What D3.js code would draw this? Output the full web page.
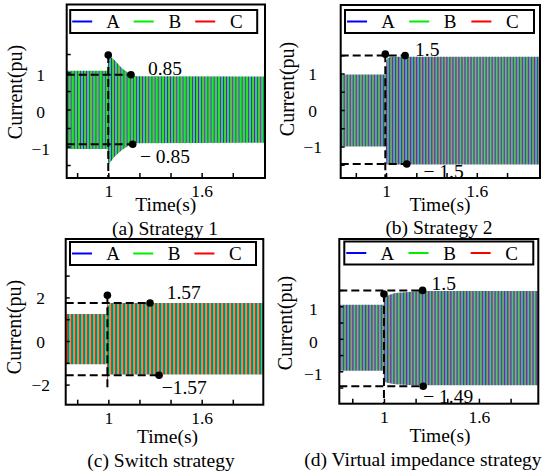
<!DOCTYPE html>
<html>
<head>
<meta charset="utf-8">
<script src="https://cdn.jsdelivr.net/npm/d3@7"></script>
<style>
  body { margin: 0; background: #fff; }
  text { font-family: "Liberation Serif", "Times New Roman", serif; fill: #000; }
</style>
</head>
<body>
<svg id="fig" width="550" height="476"></svg>
<script>
////////////////////////////////////////////////////////////////////////
// Data

let phases = ["A", "B", "C"];
let phaseColors = ["#0000ff", "#00ee00", "#ff0000"];
let captions = ["(a)  Strategy 1", "(b)  Strategy 2", "(c)  Switch strategy", "(d)  Virtual impedance strategy"];

let xTickValues = [0.8, 1.0, 1.2, 1.4, 1.6, 1.8];
let xTickLabels = [1, 1.6];
let yTicksHalf = [-1.5, -1, -0.5, 0, 0.5, 1, 1.5];
let yTicksC = [-2, -1, 0, 1, 2, 3];
let yLabelsOne = [-1, 0, 1];
let yLabelsC = [-2, 0, 2];

// current envelope (time in s, current in pu)
let timeA  = [0.733, 0.995, 1.0, 1.04, 1.09, 1.14, 1.18, 2.007];
let upperA = [1.05, 1.05, 1.47, 1.34, 1.11, 0.96, 0.90, 0.89];
let lowerA = [-1.07, -1.07, -1.5, -1.28, -1.09, -0.96, -0.91, -0.90];

let timeB  = [0.70, 0.998, 1.002, 1.01, 1.03, 2.018];
let upperB = [0.97, 0.97, 1.35, 1.42, 1.46, 1.46];
let lowerB = [-1.0, -1.0, -1.49, -1.49, -1.49, -1.49];

let timeC  = [0.726, 0.99, 0.994, 1.0, 1.01, 1.996];
let upperC = [1.24, 1.24, 1.95, 1.6, 1.74, 1.74];
let lowerC = [-1.07, -1.07, -2.2, -1.5, -1.54, -1.54];

let timeD  = [0.718, 0.998, 1.0, 1.006, 1.027, 1.07, 1.154, 1.25, 1.975];
let upperD = [1.05, 1.05, 1.25, 1.28, 1.34, 1.41, 1.44, 1.47, 1.47];
let lowerD = [-0.98, -0.98, -1.46, -1.33, -1.36, -1.40, -1.42, -1.43, -1.43];

// marked points: fault instant, positive steady peak, negative steady peak
let dotTimeA = [1.0, 1.146, 1.157],   dotValA = [1.47, 0.94, -0.94];
let dotTimeB = [0.995, 1.126, 1.137], dotValB = [1.53, 1.49, -1.48];
let dotTimeC = [0.994, 1.268, 1.326], dotValC = [2.1, 1.74, -1.57];
let dotTimeD = [1.0, 1.244, 1.248],   dotValD = [1.38, 1.49, -1.46];

let noteA = ["0.85", "\u2212 0.85"];
let noteB = ["1.5", "\u2212 1.5"];
let noteC = ["1.57", "\u22121.57"];
let noteD = ["1.5", "\u2212 1.49"];

////////////////////////////////////////////////////////////////////////
// Panel layout

// stripe fills standing in for the dense, overlapping phase traces
let stripeBright = { colors: ["#1a2cff", "#e8203c", "#14f014"], frac: [0, 0.3, 0.45, 1] };
let stripeSwitch = { colors: ["#1a2cff", "#22f022", "#ff2424"], frac: [0, 0.22, 0.68, 1] };
let stripeMuted  = { colors: ["#2b3fd6", "#a8306a", "#2fbf4a"], frac: [0, 0.3, 0.6, 1] };

let panels = [
  { time: timeA, upper: upperA, lower: lowerA, dotT: dotTimeA, dotV: dotValA, notes: noteA,
    left: 66.7, right: 265, top: 4.5, bottom: 178, xDom: [0.733, 2.007], yDom: [-1.851, 2.838],
    yTicks: yTicksHalf, yLabels: yLabelsOne, yLabDx: 26, yLabDy: "0.48em",
    tickBase: 19, timeBase: 33, capBase: 57, timeCx: 165.8, capCx: 165, ylabX: 15, ylabY: 92,
    legDx: 3.5, legDy: 5.5, legW: 187, vEnd: -1.851,
    notePos: [[1.255, 0.93], [1.204, -1.45]], stripe: stripeBright, stripeW: 3.11 },
  { time: timeB, upper: upperB, lower: lowerB, dotT: dotTimeB, dotV: dotValB, notes: noteB,
    left: 340.7, right: 540, top: 5, bottom: 178, xDom: [0.70, 2.018], yDom: [-1.863, 2.877],
    yTicks: yTicksHalf, yLabels: yLabelsOne, yLabDx: 28, yLabDy: "0.35em",
    tickBase: 19, timeBase: 33, capBase: 56, timeCx: 440, capCx: 439, ylabX: 286.5, ylabY: 89,
    legDx: 4.3, legDy: 5, legW: 189, vEnd: -1.863,
    notePos: [[1.192, 1.466], [1.247, -1.85]], stripe: stripeMuted, stripeW: 3.02 },
  { time: timeC, upper: upperC, lower: lowerC, dotT: dotTimeC, dotV: dotValC, notes: noteC,
    left: 65.7, right: 263.3, top: 239, bottom: 404.7, xDom: [0.726, 1.996], yDom: [-2.922, 4.679],
    yTicks: yTicksC, yLabels: yLabelsC, yLabDx: 25, yLabDy: "0.35em",
    tickBase: 19.5, timeBase: 38.5, capBase: 62.5, timeCx: 167.5, capCx: 161, ylabX: 14, ylabY: 327,
    legDx: 4.3, legDy: 3, legW: 186, vEnd: -2.3,
    notePos: [[1.375, 1.904], [1.343, -2.454]], stripe: stripeSwitch, stripeW: 4 },
  { time: timeD, upper: upperD, lower: lowerD, dotT: dotTimeD, dotV: dotValD, notes: noteD,
    left: 339.3, right: 538.3, top: 239, bottom: 403.7, xDom: [0.718, 1.975], yDom: [-1.997, 3.071],
    yTicks: yTicksHalf, yLabels: yLabelsOne, yLabDx: 26, yLabDy: "0.48em",
    tickBase: 19.5, timeBase: 38.5, capBase: 62.5, timeCx: 440, capCx: 423, ylabX: 285, ylabY: 323,
    legDx: 5, legDy: 2.5, legW: 189, vEnd: -1.997,
    notePos: [[1.301, 1.517], [1.248, -1.975]], stripe: stripeMuted, stripeW: 3.16 }
];

let svg = d3.select("#fig");
let defs = svg.append("defs");

panels.forEach(function(p, i) {
  let x = d3.scaleLinear().domain(p.xDom).range([p.left, p.right]);
  let y = d3.scaleLinear().domain(p.yDom).range([p.bottom, p.top]);
  let g = svg.append("g");

  defs.append("clipPath").attr("id", "clip" + i)
    .append("rect")
    .attr("x", p.left).attr("y", p.top)
    .attr("width", p.right - p.left).attr("height", p.bottom - p.top);

  // one tile per cycle, starting at the fault instant
  let per = p.stripeW;
  let frac = p.stripe.frac;
  let pat = defs.append("pattern").attr("id", "stripe" + i)
    .attr("patternUnits", "userSpaceOnUse")
    .attr("x", Math.round(x(1))).attr("y", 0)
    .attr("width", per).attr("height", 476);
  pat.selectAll("rect").data(p.stripe.colors).join("rect")
    .attr("x", (d, j) => frac[j] * per)
    .attr("width", (d, j) => (frac[j + 1] - frac[j]) * per)
    .attr("y", 0).attr("height", 476)
    .attr("fill", d => d);

  let area = d3.area()
    .x(d => x(d[0]))
    .y0(d => y(d[2]))
    .y1(d => y(d[1]));

  g.append("path")
    .datum(d3.zip(p.time, p.upper, p.lower))
    .attr("clip-path", "url(#clip" + i + ")")
    .attr("fill", "url(#stripe" + i + ")")
    .attr("d", area);

  // dashed guides
  let dash = g.append("g")
    .attr("stroke", "#000").attr("stroke-width", 2)
    .attr("stroke-dasharray", "8,4").attr("fill", "none");
  dash.append("line")
    .attr("x1", x(p.xDom[0])).attr("x2", x(p.dotT[1]))
    .attr("y1", y(p.dotV[1])).attr("y2", y(p.dotV[1]));
  dash.append("line")
    .attr("x1", x(p.xDom[0])).attr("x2", x(p.dotT[2]))
    .attr("y1", y(p.dotV[2])).attr("y2", y(p.dotV[2]));
  dash.append("line")
    .attr("x1", x(p.dotT[0])).attr("x2", x(p.dotT[0]))
    .attr("y1", y(p.dotV[0])).attr("y2", y(p.vEnd));

  g.selectAll("circle.dot")
    .data(d3.zip(p.dotT, p.dotV))
    .join("circle")
    .attr("class", "dot")
    .attr("cx", d => x(d[0])).attr("cy", d => y(d[1]))
    .attr("r", 3.8).attr("fill", "#000");

  // axes
  let xAxis = d3.axisBottom(x)
    .tickValues(xTickValues)
    .tickSizeInner(-5).tickSizeOuter(0).tickPadding(6.6)
    .tickFormat(d => xTickLabels.includes(d) ? d3.format("")(d) : "");
  let gx = g.append("g")
    .attr("transform", "translate(0," + p.bottom + ")")
    .call(xAxis);
  gx.select(".domain").remove();
  gx.selectAll("line").attr("stroke-width", 1.5);
  gx.selectAll("text")
    .attr("y", p.tickBase).attr("dy", null)
    .attr("font-family", "Liberation Serif, serif").attr("font-size", 17.5);

  let yAxis = d3.axisLeft(y)
    .tickValues(p.yTicks)
    .tickSizeInner(-4).tickSizeOuter(0)
    .tickFormat(d => p.yLabels.includes(d) ? d3.format("d")(d) : "");
  let gy = g.append("g")
    .attr("transform", "translate(" + p.left + ",0)")
    .call(yAxis);
  gy.select(".domain").remove();
  gy.selectAll("line").attr("stroke-width", 1.5);
  gy.selectAll("text")
    .attr("x", -p.yLabDx).attr("dy", p.yLabDy)
    .attr("text-anchor", "middle")
    .attr("font-family", "Liberation Serif, serif").attr("font-size", 17.5);

  // frame
  g.append("rect")
    .attr("x", p.left).attr("y", p.top)
    .attr("width", p.right - p.left).attr("height", p.bottom - p.top)
    .attr("fill", "none").attr("stroke", "#000").attr("stroke-width", 2);

  // legend
  let lx = p.left + p.legDx, ly = p.top + p.legDy, lh = 23;
  g.append("rect")
    .attr("x", lx).attr("y", ly).attr("width", p.legW).attr("height", lh)
    .attr("fill", "#fff").attr("stroke", "#000").attr("stroke-width", 2);
  let step = p.legW * 0.329;
  let items = g.selectAll("g.leg").data(phases).join("g")
    .attr("class", "leg")
    .attr("transform", (d, j) => "translate(" + (lx + 2 + j * step) + "," + (ly + lh / 2) + ")");
  items.append("line")
    .attr("x1", 0).attr("x2", 20).attr("y1", 0).attr("y2", 0)
    .attr("stroke", (d, j) => phaseColors[j]).attr("stroke-width", 2);
  items.append("text")
    .attr("x", 41).attr("y", 6.5)
    .attr("text-anchor", "middle").attr("font-size", 19)
    .text(d => d);

  // value notes
  g.selectAll("text.note").data(p.notes).join("text")
    .attr("class", "note")
    .attr("x", (d, j) => x(p.notePos[j][0]))
    .attr("y", (d, j) => y(p.notePos[j][1]))
    .attr("font-size", 19.5)
    .text(d => d);

  // axis titles and caption
  g.append("text")
    .attr("x", p.timeCx).attr("y", p.bottom + p.timeBase)
    .attr("text-anchor", "middle").attr("font-size", 19.5)
    .text("Time(s)");
  g.append("text")
    .attr("transform", "translate(" + p.ylabX + "," + p.ylabY + ") rotate(-90)")
    .attr("dy", "0.35em")
    .attr("text-anchor", "middle").attr("font-size", 20)
    .text("Current(pu)");
  g.append("text")
    .attr("x", p.capCx).attr("y", p.bottom + p.capBase)
    .attr("text-anchor", "middle").attr("font-size", 19.5)
    .text(captions[i]);
});
</script>
</body>
</html>
